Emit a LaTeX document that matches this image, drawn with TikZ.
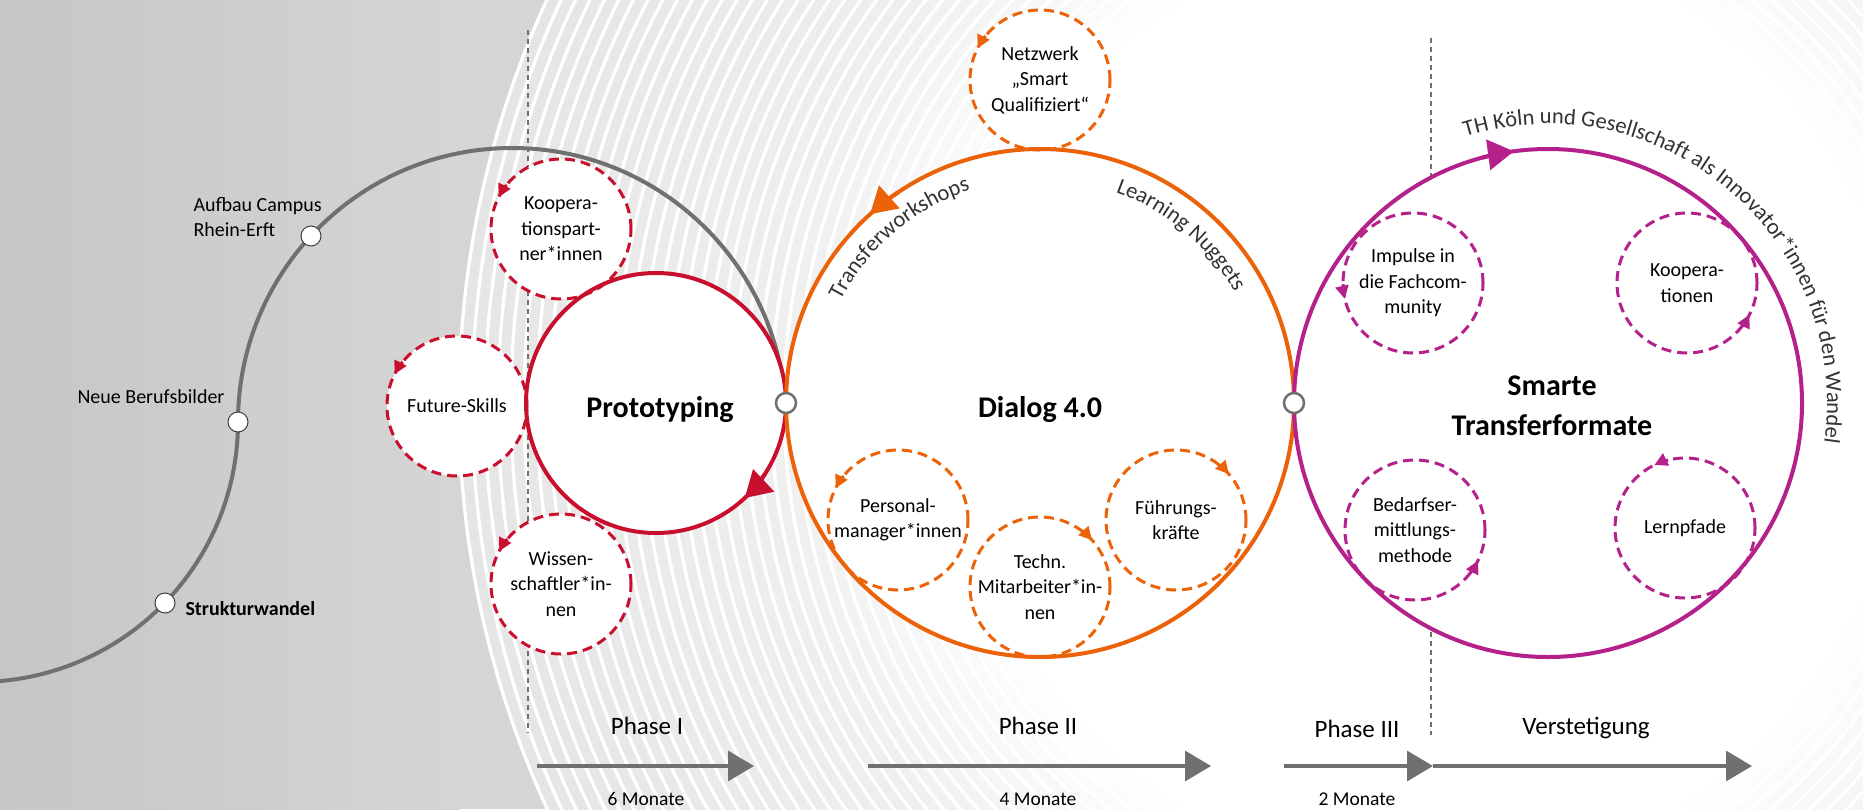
\documentclass[tikz,border=0pt]{standalone}
\usepackage{fontspec}
\setmainfont{Carlito}
\usetikzlibrary{arrows.meta,positioning,calc,decorations.text}
\pgfdeclarelayer{background}
\pgfsetlayers{background,main}

\definecolor{cRed}{HTML}{C8102E}
\definecolor{cOrange}{HTML}{EB6209}
\definecolor{cMag}{HTML}{B4218A}
\definecolor{lineGray}{HTML}{707070}
\definecolor{bgDark}{HTML}{C6C6C6}
\definecolor{bgGray}{HTML}{D5D5D5}
\definecolor{ringGray}{HTML}{DADADA}
\colorlet{ringA}{ringGray!45!white}
\colorlet{ringB}{ringGray!82!white}
\pgfdeclareradialshading{ringfade}{\pgfpoint{0bp}{0bp}}{color(0bp)=(white); color(12bp)=(white); color(17bp)=(ringA); color(29bp)=(ringB); color(43bp)=(ringGray); color(50bp)=(ringGray)}
\newcommand{\arcFont}{\fontsize{22.5pt}{27pt}\selectfont}

\begin{document}
\begin{tikzpicture}[
      x=1pt, y=1pt,
      dashCirc/.style={circle,draw,fill=white,line width=3pt,dash pattern=on 10pt off 6pt,minimum size=140pt,inner sep=0pt},
      bigCirc/.style={circle,draw,line width=4pt,inner sep=0pt},
      cText/.style={align=center,font=\fontsize{20pt}{25.5pt}\selectfont},
      bigText/.style={align=center,font=\fontsize{30pt}{40pt}\selectfont\bfseries},
      msNode/.style={circle,draw=black!75,fill=white,line width=1pt,minimum size=20pt,inner sep=0pt},
      jointNode/.style={circle,draw=lineGray,fill=white,line width=2.5pt,minimum size=20pt,inner sep=0pt},
      msText/.style={align=left,font=\fontsize{20pt}{25pt}\selectfont},
      phaseText/.style={anchor=base,font=\fontsize{25pt}{30pt}\selectfont},
      monthText/.style={anchor=base,font=\fontsize{19.5pt}{23pt}\selectfont},
      phaseArrow/.style={draw=lineGray,line width=3.5pt,-{Triangle[length=26pt,width=30pt]}},
      >=Triangle
    ]
    \useasboundingbox (0,0) rectangle (1863,-809);

    % centres of the three cycles
    \coordinate (cProto) at (656,-403);
    \coordinate (cDialog) at (1040,-403);
    \coordinate (cSmart) at (1548,-403);
    \coordinate (ringC) at (1430,-404);

    \begin{pgfonlayer}{background}
    % backdrop and rings
    \fill[bgGray] (0,0) rectangle (1863,-809);
    \shade[left color=bgDark,right color=bgGray] (0,0) rectangle (460,-809);
    \shade[shading=ringfade] (ringC) circle[radius=971];
    \foreach \r in {971,958,...,256}
      \draw[white,line width=3.3pt] (ringC) circle[radius=\r];

    % phase borders
    \coordinate (d1t) at (528,-30);
    \coordinate (d1b) at (528,-733);
    \coordinate (d2t) at (1431,-38);
    \coordinate (d2b) at (1431,-735);
    \draw[lineGray,line width=1.2pt,dash pattern=on 5pt off 4pt] (d1t) -- (d1b);
    \draw[lineGray,line width=1.2pt,dash pattern=on 5pt off 4pt] (d2t) -- (d2b);

    % the way of the region
    \coordinate (sStart) at ($(-22,-422)+(-100:260)$);
    \draw[lineGray,line width=4pt] (sStart) arc[start angle=-100,end angle=0,radius=260]
      arc[start angle=180,end angle=4,radius=274];

    % white inside of the cycles
    \fill[white] (cProto) circle[radius=130];
    \fill[white] (cDialog) circle[radius=254];
    \fill[white] (cSmart) circle[radius=254];
    \end{pgfonlayer}

    % phase I
    \node[dashCirc,draw=cRed] (koop) at (561,-229) {};
    \node[cText] (koopT) at (koop) {Koopera-\\tionspart-\\ner*innen};
    \node[dashCirc,draw=cRed] (fut) at (457,-406) {};
    \node[cText] (futT) at (fut) {Future-Skills};
    \node[dashCirc,draw=cRed] (wiss) at (561,-584) {};
    \node[cText] (wissT) at (wiss) {Wissen-\\schaftler*in-\\nen};

    % phase II
    \node[dashCirc,draw=cOrange] (netz) at (1040,-80) {};
    \node[cText] (netzT) at (netz) {Netzwerk\\„Smart\\Qualifiziert“};
    \node[dashCirc,draw=cOrange] (pers) at (898,-520) {};
    \node[cText] (persT) at (pers) {Personal-\\manager*innen};
    \node[dashCirc,draw=cOrange] (techn) at (1040,-587) {};
    \node[cText] (technT) at (techn) {Techn.\\Mitarbeiter*in-\\nen};
    \node[dashCirc,draw=cOrange] (fuehr) at (1176,-520) {};
    \node[cText] (fuehrT) at (fuehr) {Führungs-\\kräfte};

    % phase III
    \node[dashCirc,draw=cMag] (imp) at (1413,-283) {};
    \node[cText] (impT) at (imp) {Impulse in\\die Fachcom-\\munity};
    \node[dashCirc,draw=cMag] (koop2) at (1687,-283) {};
    \node[cText] (koop2T) at (koop2) {Koopera-\\tionen};
    \node[dashCirc,draw=cMag] (bed) at (1415,-530) {};
    \node[cText] (bedT) at (bed) {Bedarfser-\\mittlungs-\\methode};
    \node[dashCirc,draw=cMag] (lern) at (1685,-528) {};
    \node[cText] (lernT) at (lern) {Lernpfade};

    % the three cycles
    \node[bigCirc,draw=cRed,minimum size=260pt] (proto) at (cProto) {};
    \node[bigCirc,draw=cOrange,minimum size=508pt] (dialog) at (cDialog) {};
    \node[bigCirc,draw=cMag,minimum size=508pt] (smart) at (cSmart) {};
    \node[bigText,anchor=base] (protoT) at (660,-417) {Prototyping};
    \node[bigText,anchor=base] (dialogT) at (1040,-417) {Dialog 4.0};
    \node[bigText] (smartT) at (1552,-406) {Smarte\\Transferformate};

    % the arrows on the cycles
    \draw[cRed,line width=4pt,-{Triangle[length=26pt,width=30pt]}] ($(proto.center)+(-33:130)$) arc[start angle=-33,end angle=-47,radius=130];
    \draw[cOrange,line width=4pt,-{Triangle[length=26pt,width=30pt]}] ($(dialog.center)+(124:254)$) arc[start angle=124,end angle=132,radius=254];
    \draw[cMag,line width=4pt,-{Triangle[length=26pt,width=30pt]}] ($(smart.center)+(105:254)$) arc[start angle=105,end angle=97.7,radius=254];
    \foreach \n/\s/\e/\col in {koop/141/153/cRed,fut/141/153/cRed,wiss/140/152/cRed,
        netz/141/153/cOrange,pers/141/153/cOrange,techn/54/42/cOrange,fuehr/53/41/cOrange,
        imp/181/193/cMag,koop2/-39/-27/cMag,bed/-38/-26/cMag,lern/104/116/cMag}
      \draw[color=\col,line width=3pt,-{Triangle[length=13pt,width=13pt]}] ($(\n.center)+(\s:70)$) arc[start angle=\s,end angle=\e,radius=70];

    % texts along the cycles
    \path[decorate,decoration={text along path,text align=center,text color=black!80,text={|\arcFont|Transferworkshops}}]
      ($(cDialog)+(154:224)$) arc[start angle=154,end angle=107,radius=224];
    \path[decorate,decoration={text along path,text align=center,text color=black!80,text={|\arcFont|Learning Nuggets}}]
      ($(cDialog)+(73:224)$) arc[start angle=73,end angle=27,radius=224];
    \path[decorate,decoration={text along path,text align=center,text color=black!80,text={|\arcFont|TH Köln und Gesellschaft als Innovator*innen für den Wandel}}]
      ($(cSmart)+(108.8:279)$) arc[start angle=108.8,end angle=-9.8,radius=279];

    % joints between the cycles
    \node[jointNode] (j1) at (786,-403) {};
    \node[jointNode] (j2) at (1294,-403) {};

    % milestones
    \node[msNode] (aufbau) at (311,-236) {};
    \node[msNode] (neue) at (238,-422) {};
    \node[msNode] (struk) at (165,-603) {};
    \node[msText,anchor=west] (aufbauT) at (190,-217) {Aufbau Campus\\Rhein-Erft};
    \node[msText,anchor=base east] (neueT) at (228,-403) {Neue Berufsbilder};
    \node[msText,anchor=base west,font=\fontsize{20pt}{25pt}\selectfont\bfseries] (strukT) at (182,-615) {Strukturwandel};

    % the time line
    \coordinate (a1s) at (537,-766);
    \coordinate (a1e) at (754,-766);
    \coordinate (a2s) at (868,-766);
    \coordinate (a2e) at (1211,-766);
    \coordinate (a3s) at (1284,-766);
    \coordinate (a3e) at (1433,-766);
    \coordinate (a4e) at (1752,-766);
    \draw[phaseArrow] (a1s) -- (a1e);
    \draw[phaseArrow] (a2s) -- (a2e);
    \draw[phaseArrow] (a3s) -- (a3e);
    \draw[phaseArrow] (a3e) -- (a4e);
    \node[phaseText] (ph1) at (647,-734) {Phase I};
    \node[phaseText] (ph2) at (1038,-734) {Phase II};
    \node[phaseText] (ph3) at (1357,-737) {Phase III};
    \node[phaseText] (verst) at (1586,-734) {Verstetigung};
    \node[monthText] (m1) at (646,-805) {6 Monate};
    \node[monthText] (m2) at (1038,-805) {4 Monate};
    \node[monthText] (m3) at (1357,-805) {2 Monate};
\end{tikzpicture}
\end{document}
